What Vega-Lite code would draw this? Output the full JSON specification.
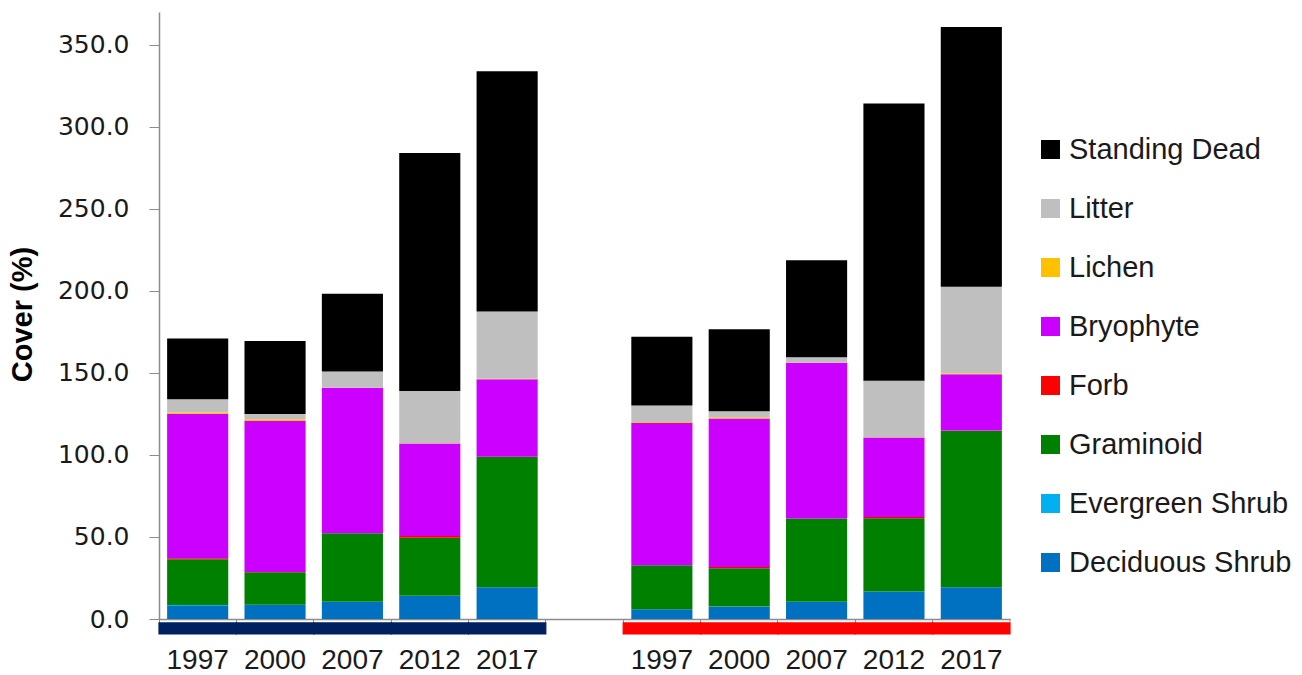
{
  "$schema": "https://vega.github.io/schema/vega-lite/v6.json",
  "autosize": "none",
  "width": 851,
  "height": 607,
  "padding": {"left": 159, "top": 12, "right": 292, "bottom": 56},
  "background": "white",
  "config": {"view": {"stroke": null}},
  "datasets": {
    "cover": [
      {"bar": "L1997", "type": "Deciduous Shrub", "v": 8.0},
      {"bar": "L1997", "type": "Evergreen Shrub", "v": 0.6},
      {"bar": "L1997", "type": "Graminoid", "v": 27.8},
      {"bar": "L1997", "type": "Forb", "v": 0.6},
      {"bar": "L1997", "type": "Bryophyte", "v": 88.0},
      {"bar": "L1997", "type": "Lichen", "v": 0.8},
      {"bar": "L1997", "type": "Litter", "v": 8.2},
      {"bar": "L1997", "type": "Standing Dead", "v": 37.0},
      {"bar": "L2000", "type": "Deciduous Shrub", "v": 8.5},
      {"bar": "L2000", "type": "Evergreen Shrub", "v": 0.2},
      {"bar": "L2000", "type": "Graminoid", "v": 19.8},
      {"bar": "L2000", "type": "Forb", "v": 0.2},
      {"bar": "L2000", "type": "Bryophyte", "v": 92.0},
      {"bar": "L2000", "type": "Lichen", "v": 1.0},
      {"bar": "L2000", "type": "Litter", "v": 3.3},
      {"bar": "L2000", "type": "Standing Dead", "v": 44.5},
      {"bar": "L2007", "type": "Deciduous Shrub", "v": 10.4},
      {"bar": "L2007", "type": "Evergreen Shrub", "v": 0.1},
      {"bar": "L2007", "type": "Graminoid", "v": 41.7},
      {"bar": "L2007", "type": "Forb", "v": 0.1},
      {"bar": "L2007", "type": "Bryophyte", "v": 88.6},
      {"bar": "L2007", "type": "Lichen", "v": 0.2},
      {"bar": "L2007", "type": "Litter", "v": 9.7},
      {"bar": "L2007", "type": "Standing Dead", "v": 47.4},
      {"bar": "L2012", "type": "Deciduous Shrub", "v": 14.0},
      {"bar": "L2012", "type": "Evergreen Shrub", "v": 0.1},
      {"bar": "L2012", "type": "Graminoid", "v": 35.5},
      {"bar": "L2012", "type": "Forb", "v": 1.0},
      {"bar": "L2012", "type": "Bryophyte", "v": 56.4},
      {"bar": "L2012", "type": "Lichen", "v": 0.1},
      {"bar": "L2012", "type": "Litter", "v": 31.9},
      {"bar": "L2012", "type": "Standing Dead", "v": 145.0},
      {"bar": "L2017", "type": "Deciduous Shrub", "v": 19.3},
      {"bar": "L2017", "type": "Evergreen Shrub", "v": 0.1},
      {"bar": "L2017", "type": "Graminoid", "v": 79.4},
      {"bar": "L2017", "type": "Forb", "v": 0.1},
      {"bar": "L2017", "type": "Bryophyte", "v": 47.3},
      {"bar": "L2017", "type": "Lichen", "v": 0.2},
      {"bar": "L2017", "type": "Litter", "v": 41.0},
      {"bar": "L2017", "type": "Standing Dead", "v": 146.5},
      {"bar": "R1997", "type": "Deciduous Shrub", "v": 5.9},
      {"bar": "R1997", "type": "Evergreen Shrub", "v": 0.1},
      {"bar": "R1997", "type": "Graminoid", "v": 26.7},
      {"bar": "R1997", "type": "Forb", "v": 0.1},
      {"bar": "R1997", "type": "Bryophyte", "v": 86.7},
      {"bar": "R1997", "type": "Lichen", "v": 0.6},
      {"bar": "R1997", "type": "Litter", "v": 10.0},
      {"bar": "R1997", "type": "Standing Dead", "v": 42.0},
      {"bar": "R2000", "type": "Deciduous Shrub", "v": 7.5},
      {"bar": "R2000", "type": "Evergreen Shrub", "v": 0.1},
      {"bar": "R2000", "type": "Graminoid", "v": 23.3},
      {"bar": "R2000", "type": "Forb", "v": 0.8},
      {"bar": "R2000", "type": "Bryophyte", "v": 90.5},
      {"bar": "R2000", "type": "Lichen", "v": 0.8},
      {"bar": "R2000", "type": "Litter", "v": 3.6},
      {"bar": "R2000", "type": "Standing Dead", "v": 50.0},
      {"bar": "R2007", "type": "Deciduous Shrub", "v": 10.4},
      {"bar": "R2007", "type": "Evergreen Shrub", "v": 0.1},
      {"bar": "R2007", "type": "Graminoid", "v": 50.7},
      {"bar": "R2007", "type": "Forb", "v": 0.1},
      {"bar": "R2007", "type": "Bryophyte", "v": 94.9},
      {"bar": "R2007", "type": "Lichen", "v": 0.1},
      {"bar": "R2007", "type": "Litter", "v": 3.3},
      {"bar": "R2007", "type": "Standing Dead", "v": 59.1},
      {"bar": "R2012", "type": "Deciduous Shrub", "v": 16.7},
      {"bar": "R2012", "type": "Evergreen Shrub", "v": 0.1},
      {"bar": "R2012", "type": "Graminoid", "v": 44.6},
      {"bar": "R2012", "type": "Forb", "v": 0.8},
      {"bar": "R2012", "type": "Bryophyte", "v": 48.5},
      {"bar": "R2012", "type": "Lichen", "v": 0.1},
      {"bar": "R2012", "type": "Litter", "v": 34.5},
      {"bar": "R2012", "type": "Standing Dead", "v": 168.9},
      {"bar": "R2017", "type": "Deciduous Shrub", "v": 19.3},
      {"bar": "R2017", "type": "Evergreen Shrub", "v": 0.1},
      {"bar": "R2017", "type": "Graminoid", "v": 95.4},
      {"bar": "R2017", "type": "Forb", "v": 0.1},
      {"bar": "R2017", "type": "Bryophyte", "v": 34.3},
      {"bar": "R2017", "type": "Lichen", "v": 0.6},
      {"bar": "R2017", "type": "Litter", "v": 52.8},
      {"bar": "R2017", "type": "Standing Dead", "v": 158.2}
    ],
    "types": [
      {"type": "Deciduous Shrub", "k": 1},
      {"type": "Evergreen Shrub", "k": 2},
      {"type": "Graminoid", "k": 3},
      {"type": "Forb", "k": 4},
      {"type": "Bryophyte", "k": 5},
      {"type": "Lichen", "k": 6},
      {"type": "Litter", "k": 7},
      {"type": "Standing Dead", "k": 8}
    ],
    "strips": [
      {"bar": "L1997", "grp": "L"},
      {"bar": "L2000", "grp": "L"},
      {"bar": "L2007", "grp": "L"},
      {"bar": "L2012", "grp": "L"},
      {"bar": "L2017", "grp": "L"},
      {"bar": "R1997", "grp": "R"},
      {"bar": "R2000", "grp": "R"},
      {"bar": "R2007", "grp": "R"},
      {"bar": "R2012", "grp": "R"},
      {"bar": "R2017", "grp": "R"}
    ],
    "endtick": [{"bar": "R2017"}]
  },
  "encoding": {
    "x": {
      "field": "bar",
      "type": "nominal",
      "scale": {
        "domain": ["L1997", "L2000", "L2007", "L2012", "L2017", "gap", "R1997", "R2000", "R2007", "R2012", "R2017"],
        "paddingInner": 0,
        "paddingOuter": 0
      },
      "axis": {
        "title": null,
        "labelAngle": 0,
        "labelExpr": "datum.value == 'gap' ? '' : slice(datum.value, 1)",
        "labelFont": "Liberation Sans",
        "labelFontSize": 28,
        "labelColor": "#1a1a1a",
        "labelPadding": 23,
        "bandPosition": 0,
        "tickSize": 4,
        "tickColor": "#8c8c8c",
        "domainColor": "#8c8c8c",
        "domainWidth": 1.5,
        "grid": false
      }
    }
  },
  "layer": [
    {
      "data": {"name": "cover"},
      "transform": [
        {"lookup": "type", "from": {"data": {"name": "types"}, "key": "type", "fields": ["k"]}}
      ],
      "mark": {"type": "bar", "width": {"band": 0.79}},
      "encoding": {
        "y": {
          "field": "v",
          "type": "quantitative",
          "stack": "zero",
          "scale": {"domain": [0, 370], "nice": false},
          "axis": {
            "title": "Cover (%)",
            "titleFont": "Liberation Sans",
            "titleFontSize": 29,
            "titleFontWeight": "bold",
            "titleColor": "#000000",
            "titleX": -137,
            "titleY": 302,
            "titleAngle": 270,
            "titleAlign": "center",
            "titleBaseline": "middle",
            "values": [0, 50, 100, 150, 200, 250, 300, 350],
            "format": ".1f",
            "labelFont": "DejaVu Sans",
            "labelFontSize": 25,
            "labelColor": "#1a1a1a",
            "labelPadding": 20,
            "tickSize": 10,
            "tickColor": "#8c8c8c",
            "domainColor": "#8c8c8c",
            "domainWidth": 1.5,
            "grid": false
          }
        },
        "color": {
          "field": "type",
          "type": "nominal",
          "scale": {
            "domain": ["Standing Dead", "Litter", "Lichen", "Bryophyte", "Forb", "Graminoid", "Evergreen Shrub", "Deciduous Shrub"],
            "range": ["#000000", "#bfbfbf", "#ffc000", "#cc00ff", "#ff0000", "#008000", "#00b0f0", "#0070c0"]
          },
          "legend": {
            "title": null,
            "orient": "none",
            "legendX": 877,
            "legendY": 123,
            "padding": 0,
            "symbolType": "square",
            "symbolSize": 361,
            "symbolStrokeWidth": 0,
            "labelFont": "Liberation Sans",
            "labelFontSize": 29,
            "labelColor": "#1a1a1a",
            "labelOffset": 4,
            "rowPadding": 29,
            "labelLimit": 400
          }
        },
        "order": {"field": "k", "type": "quantitative"}
      }
    },
    {
      "data": {"name": "strips"},
      "mark": {"type": "bar", "width": {"band": 1}, "strokeWidth": 1.2},
      "encoding": {
        "y": {"datum": -2.4},
        "y2": {"datum": -9.1},
        "color": {
          "field": "grp",
          "type": "nominal",
          "scale": {"domain": ["L", "R"], "range": ["#002060", "#ff0000"]},
          "legend": null
        },
        "stroke": {
          "field": "grp",
          "type": "nominal",
          "scale": {"domain": ["L", "R"], "range": ["#002060", "#ff0000"]},
          "legend": null
        }
      }
    },
    {
      "data": {"name": "endtick"},
      "mark": {"type": "rule", "color": "#8c8c8c", "strokeWidth": 1},
      "encoding": {
        "x": {"field": "bar", "type": "nominal", "bandPosition": 1},
        "y": {"datum": 0},
        "y2": {"datum": -2.4}
      }
    }
  ],
  "resolve": {"scale": {"color": "independent"}}
}
